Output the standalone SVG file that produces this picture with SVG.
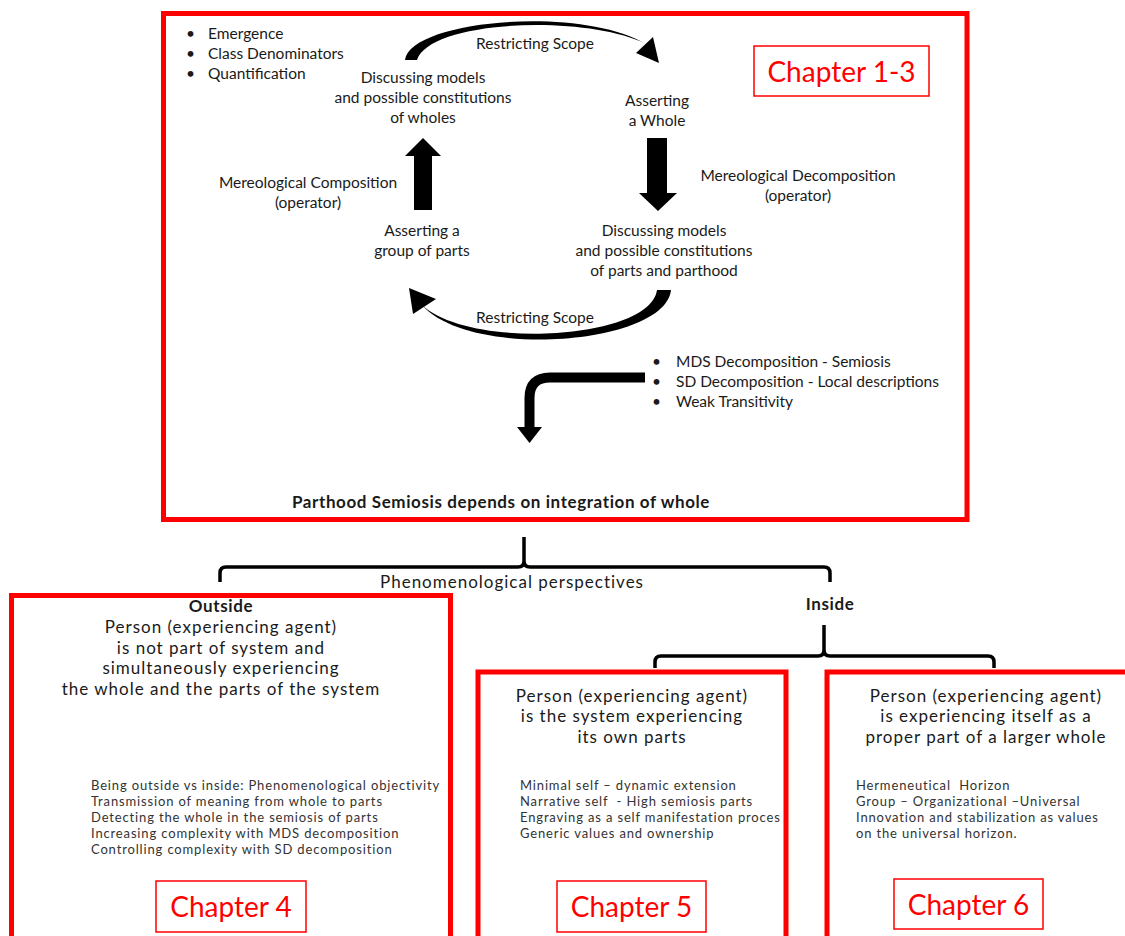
<svg xmlns="http://www.w3.org/2000/svg" width="1125" height="936" viewBox="0 0 1125 936">
<style>
.t{font-family:Lato,"Open Sans","Liberation Sans",sans-serif;fill:#1a1a1a;font-size:15.5px;white-space:pre}
.c{text-anchor:middle}
.b{font-weight:bold;font-size:17px;letter-spacing:0.6px}
.m{font-size:17px;letter-spacing:1px}
.s{font-family:Lato,"Open Sans","Liberation Sans",sans-serif;fill:#333;font-size:13px;letter-spacing:0.85px;white-space:pre}
.ch{font-family:Lato,"Open Sans","Liberation Sans",sans-serif;fill:#ff0000;font-size:28px;text-anchor:middle}
.big{fill:none;stroke:#ff0000;stroke-width:5}
.chb{fill:#fff;stroke:#ff0000;stroke-width:1.5}
.br{fill:none;stroke:#000;stroke-width:3.5;stroke-linejoin:round}
</style>
<rect width="1125" height="936" fill="#fff"/>
<g id="top-box">
<rect class="big" x="163.5" y="13.5" width="803.5" height="506"/>
<g id="chapter13"><rect class="chb" x="754" y="46" width="175" height="50"/><text class="ch" x="841.5" y="82">Chapter 1-3</text></g>
<g id="top-bullets" class="t">
<text x="186" y="39">•</text><text x="208" y="39">Emergence</text>
<text x="186" y="59">•</text><text x="208" y="59">Class Denominators</text>
<text x="186" y="79">•</text><text x="208" y="79">Quantification</text>
</g>
<g id="n-wholes"><text class="t c" x="423" y="83">Discussing models</text><text class="t c" x="423" y="103">and possible constitutions</text><text class="t c" x="423" y="123">of wholes</text></g>
<g id="n-assert-whole"><text class="t c" x="657" y="106">Asserting</text><text class="t c" x="657" y="126">a Whole</text></g>
<g id="n-assert-group"><text class="t c" x="422" y="236">Asserting a</text><text class="t c" x="422" y="256">group of parts</text></g>
<g id="n-parts"><text class="t c" x="664" y="236">Discussing models</text><text class="t c" x="664" y="256">and possible constitutions</text><text class="t c" x="664" y="276">of parts and parthood</text></g>
<g id="mdsbullets" class="t">
<text x="652" y="367">•</text><text x="676" y="367">MDS Decomposition -  Semiosis</text>
<text x="652" y="387">•</text><text x="676" y="387">SD Decomposition -  Local descriptions</text>
<text x="652" y="407">•</text><text x="676" y="407">Weak Transitivity</text>
</g>
<text class="t c b" x="501" y="508">Parthood Semiosis depends on integration of whole</text>
</g>
<g id="connectors">
<path d="M405,60 C410,20 580,5 646,44 C585,14 430,20 417,60 Z" fill="#000"/>
<polygon points="659,63 636,53 653,37" fill="#000"/>
<text class="t c" x="535" y="49">Restricting Scope</text>
<path d="M414,210 V156 H405 L423,138 L441,156 H432 V210 Z" fill="#000"/>
<path d="M647,138 V193 H639 L658,211 L677,193 H667 V138 Z" fill="#000"/>
<text class="t c" x="308" y="188">Mereological Composition</text><text class="t c" x="308" y="208">(operator)</text>
<text class="t c" x="798" y="181">Mereological Decomposition</text><text class="t c" x="798" y="201">(operator)</text>
<path d="M671,290 C665,345 470,360 422,305 C470,350 650,340 657,290 Z" fill="#000"/>
<polygon points="409,288 436,299 413,314" fill="#000"/>
<text class="t c" x="535" y="323">Restricting Scope</text>
<path d="M645,377.5 H550 Q529.5,377.5 529.5,398 V428" fill="none" stroke="#000" stroke-width="10"/>
<polygon points="517,427 542,427 529.5,443" fill="#000"/>
<path class="br" d="M220,582 V573 Q220,567 226,567 H518 Q524,567 524,561 V537 M524,561 Q524,567 530,567 H824 Q830,567 830,573 V582"/>
<text class="t c m" x="512" y="588">Phenomenological perspectives</text>
<text class="t c b" x="830" y="610">Inside</text>
<path class="br" d="M655,668 V662 Q655,656 661,656 H818 Q824,656 824,650 V625 M824,650 Q824,656 830,656 H988 Q994,656 994,662 V668"/>
</g>
<g id="outside">
<rect class="big" x="11.5" y="595.5" width="439" height="350"/>
<text class="t c b" x="221" y="612">Outside</text>
<text class="t c m" x="221" y="633">Person (experiencing agent)</text>
<text class="t c m" x="221" y="653.5">is not part of system and</text>
<text class="t c m" x="221" y="674">simultaneously experiencing</text>
<text class="t c m" x="221" y="694.5">the whole and the parts of the system</text>
<text class="s" x="91" y="790">Being outside vs inside: Phenomenological objectivity</text>
<text class="s" x="91" y="806">Transmission of meaning from whole to parts</text>
<text class="s" x="91" y="822">Detecting the whole in the semiosis of parts</text>
<text class="s" x="91" y="838">Increasing complexity with MDS decomposition</text>
<text class="s" x="91" y="854">Controlling complexity with SD decomposition</text>
<g id="chapter4"><rect class="chb" x="156" y="881" width="150" height="51"/><text class="ch" x="231" y="917">Chapter 4</text></g>
</g>
<g id="inside-system">
<rect class="big" x="478" y="672" width="308" height="280"/>
<text class="t c m" x="632" y="701.5">Person (experiencing agent)</text>
<text class="t c m" x="632" y="722">is the system experiencing</text>
<text class="t c m" x="632" y="742.5">its own parts</text>
<text class="s" x="520" y="790">Minimal self – dynamic extension</text>
<text class="s" x="520" y="806">Narrative self  - High semiosis parts</text>
<text class="s" x="520" y="822">Engraving as a self manifestation proces</text>
<text class="s" x="520" y="838">Generic values and ownership</text>
<g id="chapter5"><rect class="chb" x="557" y="881" width="149" height="51"/><text class="ch" x="631.5" y="917">Chapter 5</text></g>
</g>
<g id="inside-part">
<rect class="big" x="827" y="672" width="320" height="280"/>
<text class="t c m" x="986" y="701.5">Person (experiencing agent)</text>
<text class="t c m" x="986" y="722">is experiencing itself as a</text>
<text class="t c m" x="986" y="742.5">proper part of a larger whole</text>
<text class="s" x="856" y="790">Hermeneutical  Horizon</text>
<text class="s" x="856" y="806">Group – Organizational –Universal</text>
<text class="s" x="856" y="822">Innovation and stabilization as values</text>
<text class="s" x="856" y="838">on the universal horizon.</text>
<g id="chapter6"><rect class="chb" x="894" y="879" width="149" height="50"/><text class="ch" x="968.5" y="915">Chapter 6</text></g>
</g>
</svg>
